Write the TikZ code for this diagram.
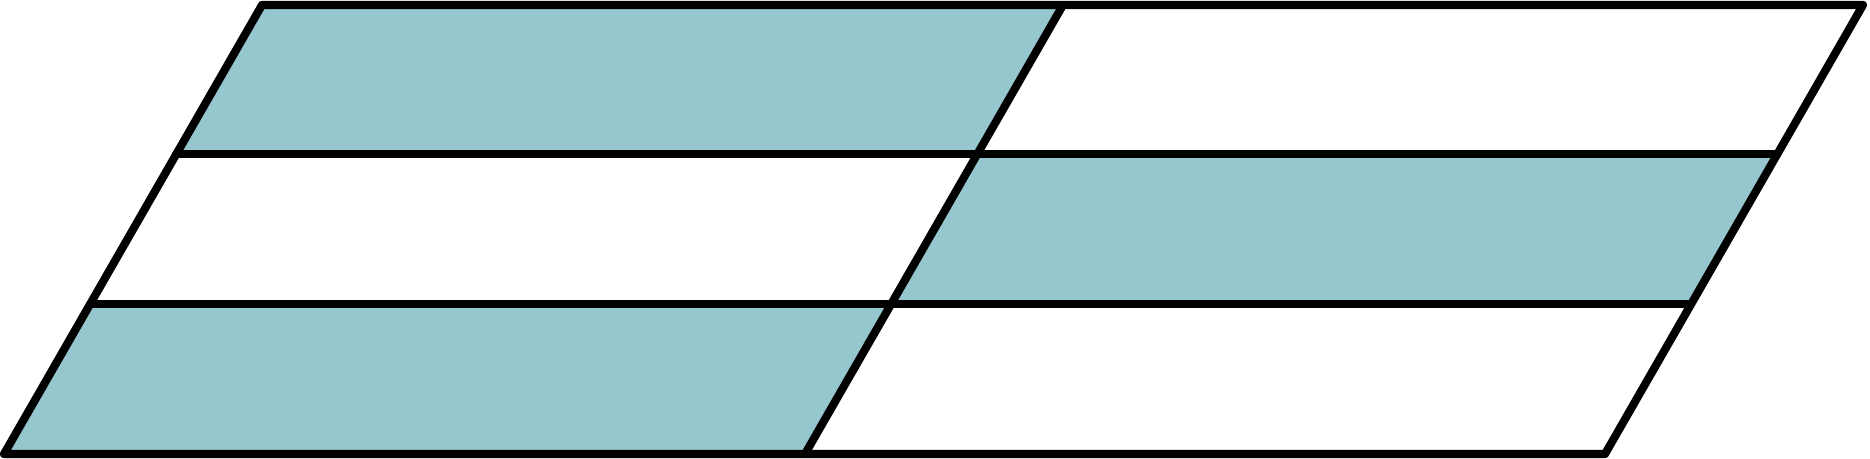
\documentclass[tikz,border=0pt]{standalone}
\definecolor{cellteal}{RGB}{150,199,206}
\tikzset{
  cell/.style={fill=cellteal, draw=none},
  rule/.style={line width=4.6pt, line join=round, line cap=round},
}
\begin{document}
\begin{tikzpicture}[x=0.02cm, y=-0.02cm]
    \useasboundingbox (0,0) rectangle (1870,459);
    \coordinate (l0) at (4,454);
    \coordinate (l1) at (90,304);
    \coordinate (l2) at (176,154);
    \coordinate (l3) at (262,5);
    \coordinate (m0) at (805,454);
    \coordinate (m1) at (891,304);
    \coordinate (m2) at (977,154);
    \coordinate (m3) at (1063,5);
    \coordinate (r0) at (1605,454);
    \coordinate (r1) at (1691,304);
    \coordinate (r2) at (1777,154);
    \coordinate (r3) at (1863,5);
    \fill[cell] (l0) -- (m0) -- (m1) -- (l1) -- cycle;
    \fill[cell] (m1) -- (r1) -- (r2) -- (m2) -- cycle;
    \fill[cell] (l2) -- (m2) -- (m3) -- (l3) -- cycle;
    \draw[rule] (l0) -- (r0) -- (r3) -- (l3) -- cycle;
    \draw[rule] (l1) -- (r1);
    \draw[rule] (l2) -- (r2);
    \draw[rule] (m0) -- (m3);
  \end{tikzpicture}
\end{document}
